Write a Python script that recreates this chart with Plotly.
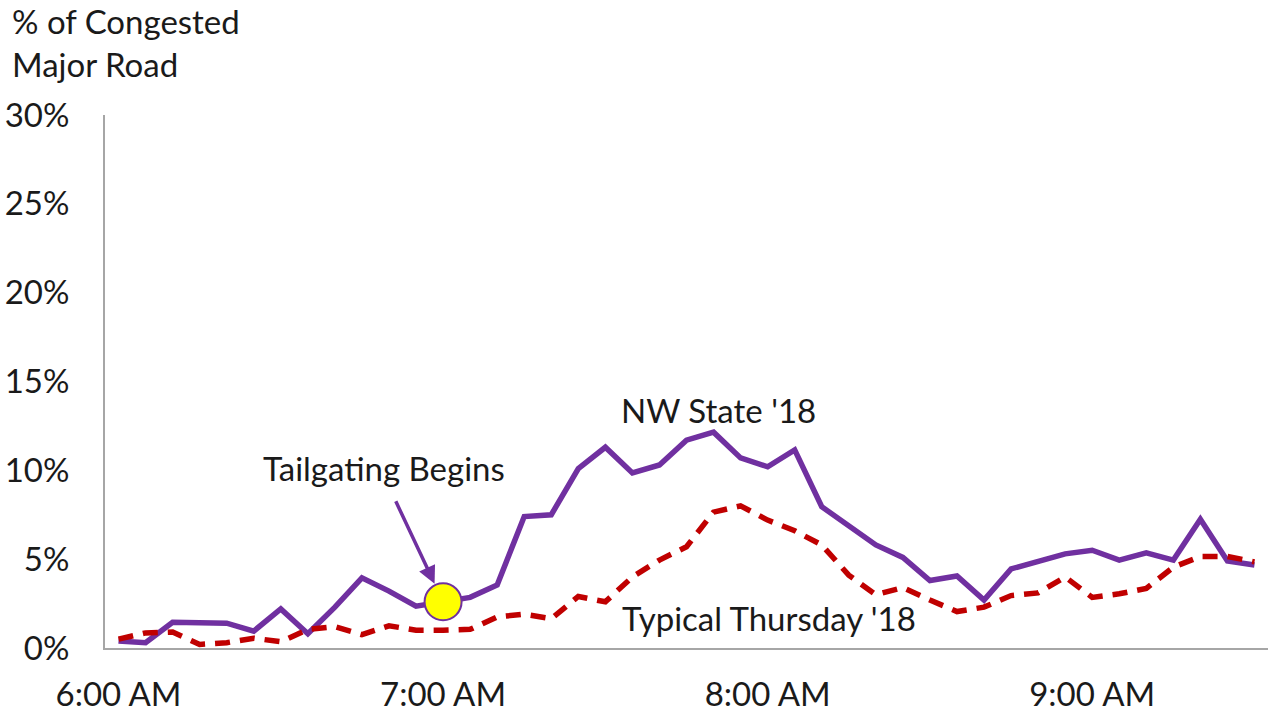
import pandas as pd
import plotly.graph_objects as go

# Sample times, every 5 minutes from 6:00 AM to 9:30 AM
times = pd.date_range("2018-11-01 06:00", "2018-11-01 09:30", freq="5min")

# Share of major road that is congested (%)
nw_state = [0.4, 0.3, 1.45, 1.43, 1.4, 0.95, 2.2, 0.8, 2.3, 3.95,
            3.2, 2.35, 2.6, 2.85, 3.55, 7.4, 7.5, 10.1, 11.3, 9.85,
            10.3, 11.7, 12.15, 10.7, 10.2, 11.15, 7.95, 6.9, 5.8, 5.1,
            3.8, 4.05, 2.7, 4.45, 4.85, 5.3, 5.5, 4.95, 5.35, 4.95,
            7.25, 4.9, 4.67]
typical_thu = [0.5, 0.85, 0.9, 0.2, 0.3, 0.55, 0.35, 1.05, 1.2, 0.75,
               1.25, 1.0, 1.0, 1.05, 1.75, 1.9, 1.65, 2.9, 2.6, 4.0,
               4.95, 5.7, 7.65, 8.0, 7.2, 6.6, 5.8, 4.1, 3.0, 3.4,
               2.7, 2.05, 2.3, 2.95, 3.1, 4.0, 2.85, 3.05, 3.35, 4.55,
               5.15, 5.15, 4.85]

tailgate_idx = 12  # 7:00 AM

PURPLE = "#7030A0"
RED = "#C00000"
AXIS_GREY = "#A6A6A6"
FONT = "Lato"
TEXT = "#1a1a1a"
FS = 33

nw_frac = [v / 100 for v in nw_state]
typ_frac = [v / 100 for v in typical_thu]

fig = go.Figure()
fig.add_trace(go.Scatter(x=times, y=nw_frac, mode="lines",
                         line=dict(color=PURPLE, width=5.5),
                         name="NW State '18", showlegend=False))
fig.add_trace(go.Scatter(x=times, y=typ_frac, mode="lines",
                         line=dict(color=RED, width=5.5, dash="15px,10px"),
                         name="Typical Thursday '18", showlegend=False))
fig.add_trace(go.Scatter(x=[times[tailgate_idx]], y=[nw_frac[tailgate_idx]],
                         mode="markers",
                         marker=dict(size=37, color="#FFFF00",
                                     line=dict(color=PURPLE, width=2)),
                         showlegend=False))

half = pd.Timedelta(minutes=2.5)
fig.update_xaxes(
    type="date",
    range=[times[0] - half, times[-1] + half],
    tickvals=[times[0], times[12], times[24], times[36]],
    tickformat="%-I:%M %p",
    showgrid=False, zeroline=False, automargin=False,
    showline=True, linecolor=AXIS_GREY, linewidth=2,
    ticks="", ticklabelstandoff=16,
    tickfont=dict(family=FONT, size=FS, color=TEXT),
)
fig.update_yaxes(
    range=[0, 0.30], dtick=0.05, tickformat=".0%",
    showgrid=False, zeroline=False, automargin=False,
    showline=True, linecolor=AXIS_GREY, linewidth=2,
    ticks="", ticklabelstandoff=27,
    tickfont=dict(family=FONT, size=FS, color=TEXT),
)

fig.add_annotation(x=times[tailgate_idx], y=nw_frac[tailgate_idx],
                   ax=-48, ay=-102, text="", showarrow=True,
                   arrowhead=2, arrowsize=1, arrowwidth=3.5,
                   arrowcolor=PURPLE, standoff=20)
fig.add_annotation(x=pd.Timestamp("2018-11-01 06:49:10"), y=0.1013,
                   text="Tailgating Begins", showarrow=False,
                   font=dict(family=FONT, size=FS, color=TEXT))
fig.add_annotation(x=pd.Timestamp("2018-11-01 07:51:00"), y=0.134,
                   text="NW State '18", showarrow=False,
                   font=dict(family=FONT, size=FS, color=TEXT))
fig.add_annotation(x=pd.Timestamp("2018-11-01 08:00:10"), y=0.0169,
                   text="Typical Thursday '18", showarrow=False,
                   font=dict(family=FONT, size=FS, color=TEXT))
fig.add_annotation(xref="paper", yref="paper", x=-0.0817, y=1.217,
                   xanchor="left", yanchor="top", align="left",
                   text="% of Congested<br>Major Road", showarrow=False,
                   font=dict(family=FONT, size=FS, color=TEXT))

fig.update_layout(
    width=1273, height=715,
    margin=dict(l=105, r=5, t=115, b=67),
    paper_bgcolor="white", plot_bgcolor="white",
    showlegend=False,
)

fig.write_html("out.html")
